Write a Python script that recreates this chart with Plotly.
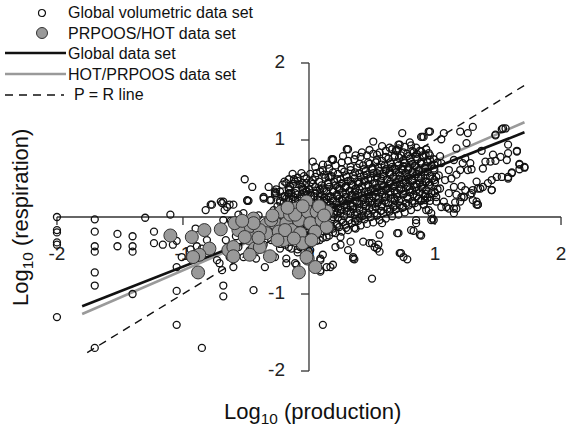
import plotly.graph_objects as go

W, H = 574, 430
X_RANGE = [-2.452, 2.103]
Y_RANGE = [-2.766, 2.818]
PX_X = W / (X_RANGE[1] - X_RANGE[0])
PX_Y = H / (Y_RANGE[1] - Y_RANGE[0])

# ---------------- data (log10 production, log10 respiration) ----------------
gv_left_sparse = [
    (-2.00, 0.00), (-2.00, -0.17), (-2.00, -0.20), (-2.00, -0.33), (-2.00, -0.36), (-2.00, -1.30),
    (-1.70, -0.03), (-1.70, -0.19), (-1.70, -0.38), (-1.70, -0.45), (-1.70, -0.72), (-1.70, -0.89), (-1.70, -1.70),
    (-1.52, -0.22), (-1.52, -0.38), (-1.40, -0.25), (-1.40, -0.38), (-1.40, -0.45), (-1.40, -1.00),
    (-1.30, -0.01), (-1.23, -0.19), (-1.23, -0.34), (-1.16, -0.36), (-1.10, 0.03), (-1.08, -0.36), (-1.05, -0.31),
    (-1.05, -0.65), (-1.05, -0.96), (-1.05, -1.40), (-1.01, -0.52), (-0.85, -1.70), (-0.90, -0.15),
    (-0.68, -0.04), (-0.68, -0.89), (-0.68, -1.03), (-0.69, -0.69), (-0.81, -0.30),
    (-0.85, -0.41), (-0.89, -0.38), (-0.94, -0.42), (-0.73, -0.56), (-0.71, -0.60), (-0.44, -0.95), (0.11, -1.40),
    (-0.62, -0.05), (-0.55, -0.10), (-0.45, -0.20), (-0.40, 0.02), (-0.36, -0.18), (-0.30, -0.12),
    (-0.52, 0.05), (-0.58, -0.25), (-0.66, -0.30),
]
gv_upper_left = [
    (-0.82, 0.09), (-0.77, 0.16), (-0.70, 0.20), (-0.65, 0.13), (-0.63, 0.16), (-0.51, 0.49), (-0.45, 0.39),
    (-0.32, 0.39), (-0.49, 0.21), (-0.36, 0.26), (-0.26, 0.36), (-0.18, 0.44), (-0.13, 0.56), (-0.06, 0.57),
    (0.05, 0.65), (0.11, 0.68), (0.19, 0.74), (-0.11, 0.46), (-0.26, 0.31), (-0.30, 0.22), (-0.16, 0.31),
    (-0.05, 0.35), (0.03, 0.48), (0.09, 0.59), (0.17, 0.52), (0.03, 0.72), (0.18, 0.75), (0.30, 0.88),
    (-0.27, 0.33), (-0.36, 0.24), (-0.48, 0.21), (-0.60, 0.16), (-0.68, 0.20), (-0.67, 0.09), (-0.56, 0.03),
    (-0.31, 0.22), (-0.28, 0.09), (-0.18, 0.24), (-0.16, 0.37), (-0.05, 0.44), (-0.02, 0.33), (-0.21, 0.26),
]
gv_top_edge = [
    (0.74, 1.09), (0.51, 0.98), (0.31, 0.88), (0.71, 0.94), (0.95, 1.11), (0.90, 1.04), (0.64, 0.90),
    (0.70, 0.87), (0.48, 0.87), (0.37, 0.80), (0.19, 0.75), (0.15, 0.68), (0.89, 1.04), (0.72, 0.94),
    (0.69, 0.86), (0.54, 0.81), (0.85, 0.90), (0.42, 0.84), (0.58, 0.92), (0.80, 0.97), (0.27, 0.79),
]
gv_right = [
    (1.56, 1.15), (1.53, 1.14), (1.48, 1.07), (1.37, 0.86), (1.46, 0.81), (1.52, 0.78), (1.58, 0.83),
    (1.65, 0.86), (1.57, 0.74), (1.40, 0.72), (1.44, 0.72), (1.48, 0.73), (1.67, 0.68), (1.71, 0.64),
    (1.67, 0.62), (1.61, 0.57), (1.58, 0.50), (1.53, 0.52), (1.49, 0.52), (1.45, 0.48), (1.42, 0.44),
    (1.38, 0.39), (1.33, 0.46), (1.30, 0.35), (1.28, 0.29), (1.23, 0.26), (1.33, 0.16), (1.34, 0.37),
    (1.38, 0.63), (1.29, 0.62), (1.26, 0.61), (1.28, 0.70), (1.22, 0.70), (1.24, 0.76), (1.20, 0.61),
    (1.17, 0.55), (1.13, 0.50), (1.15, 0.39), (1.11, 0.31), (1.17, 0.29), (1.20, 0.20), (1.15, 0.11),
    (1.09, 0.13), (1.05, 0.13), (1.01, 0.20), (1.00, 0.31), (1.04, 0.37), (1.08, 0.48), (1.01, 0.52),
    (1.11, 0.61), (1.05, 0.70), (1.15, 0.74), (1.17, 0.89), (1.25, 0.96), (1.20, 1.11), (1.26, 1.09),
    (1.30, 1.17), (1.05, 1.01), (1.07, 1.09), (0.96, 1.11), (0.91, 1.04), (0.97, 0.05), (0.95, 0.09),
    (0.99, -0.04), (0.91, 0.16), (0.92, 0.22), (1.21, 0.40), (1.24, 0.35), (1.36, 0.37), (1.45, 0.35),
    (1.33, 0.20), (1.34, 0.16), (1.23, 0.26), (1.17, 0.11), (1.11, 0.11), (1.16, 0.19), (1.58, 0.52),
    (1.61, 0.58), (1.67, 0.69), (1.71, 0.65), (1.65, 0.85), (1.58, 0.94), (1.54, 1.15), (1.48, 1.06),
    (1.07, 0.20), (1.15, 0.05), (1.21, 0.26), (1.29, 0.31), (1.34, 0.16), (1.30, 0.22), (1.45, 0.35),
    (0.93, 0.09), (0.85, -0.04), (0.97, -0.04), (0.98, -0.02),
]
gv_lower = [
    (-0.18, -0.54), (-0.11, -0.60), (0.01, -0.43), (0.09, -0.54), (0.17, -0.65), (0.09, -0.71), (0.19, -0.62),
    (0.35, -0.54), (0.31, -0.43), (0.25, -0.36), (0.43, -0.32), (0.48, -0.34), (0.54, -0.41), (0.50, -0.80),
    (0.73, -0.47), (0.78, -0.55), (0.36, -0.55), (0.56, -0.45), (0.55, -0.36), (0.70, -0.21), (0.83, -0.18),
    (0.89, -0.24), (-0.60, -0.65), (-0.52, -0.52), (-0.35, -0.65), (-0.27, -0.52), (-0.18, -0.60),
    (-0.10, -0.62), (-0.07, -0.39), (-0.01, -0.43), (0.09, -0.56), (0.14, -0.65), (0.09, -0.69), (-0.63, -0.52),
    (-0.56, -0.39), (-0.47, -0.43), (-0.42, -0.54), (-0.36, -0.36), (-0.23, -0.41), (-0.30, -0.30),
    (0.25, -0.26), (0.33, -0.32), (0.37, -0.15), (0.50, -0.34), (0.52, -0.39), (0.56, -0.23), (0.58, -0.08),
    (0.71, -0.21), (0.72, -0.47), (0.81, -0.17), (0.88, -0.23), (0.85, -0.08), (0.35, -0.52), (0.21, -0.39),
    (0.14, -0.26), (0.11, -0.49), (0.75, -0.52), (-0.78, 0.16), (-0.69, 0.18), (-0.49, 0.22), (-0.27, 0.31),
]
gv_core_a = [
    (-0.24, -0.31), (-0.23, -0.18), (-0.26, -0.04), (-0.22, 0.06), (-0.25, 0.14), (-0.23, 0.21), (-0.27, 0.29),
    (-0.19, -0.36), (-0.18, -0.13), (-0.21, 0.01), (-0.17, 0.11), (-0.20, 0.19), (-0.19, 0.27), (-0.16, 0.35), (-0.21, 0.42),
    (-0.14, -0.41), (-0.13, -0.27), (-0.15, -0.11), (-0.12, 0.03), (-0.16, 0.12), (-0.13, 0.23), (-0.11, 0.31), (-0.15, 0.39), (-0.12, 0.49),
    (-0.09, -0.46), (-0.08, -0.33), (-0.10, -0.19), (-0.07, -0.06), (-0.11, 0.07), (-0.08, 0.17), (-0.06, 0.26), (-0.10, 0.34), (-0.07, 0.42), (-0.09, 0.51),
    (-0.04, -0.37), (-0.03, -0.24), (-0.05, -0.13), (-0.02, 0.01), (-0.06, 0.09), (-0.03, 0.21), (-0.01, 0.29), (-0.05, 0.37), (-0.02, 0.44), (-0.04, 0.53),
    (0.01, -0.34), (0.02, -0.21), (0.00, -0.09), (0.03, 0.03), (-0.01, 0.13), (0.02, 0.19), (0.04, 0.27), (0.00, 0.36), (0.03, 0.43), (0.01, 0.56),
    (0.06, -0.31), (0.07, -0.17), (0.05, -0.07), (0.08, 0.05), (0.04, 0.15), (0.07, 0.23), (0.09, 0.31), (0.05, 0.39), (0.08, 0.46), (0.06, 0.57),
    (0.11, -0.27), (0.12, -0.14), (0.10, -0.02), (0.13, 0.08), (0.09, 0.17), (0.12, 0.25), (0.14, 0.33), (0.10, 0.41), (0.13, 0.51), (0.11, 0.61),
    (0.16, -0.24), (0.17, -0.11), (0.15, 0.01), (0.18, 0.10), (0.14, 0.19), (0.17, 0.27), (0.19, 0.35), (0.15, 0.43), (0.18, 0.53), (0.16, 0.63),
    (0.21, -0.21), (0.22, -0.09), (0.20, 0.03), (0.23, 0.12), (0.19, 0.21), (0.22, 0.29), (0.24, 0.37), (0.20, 0.46), (0.23, 0.56), (0.21, 0.67),
    (0.26, -0.19), (0.27, -0.07), (0.25, 0.05), (0.28, 0.15), (0.24, 0.24), (0.27, 0.32), (0.29, 0.40), (0.25, 0.49), (0.28, 0.59), (0.26, 0.71),
    (0.31, -0.17), (0.32, -0.04), (0.30, 0.07), (0.33, 0.17), (0.29, 0.26), (0.32, 0.34), (0.34, 0.43), (0.30, 0.52), (0.33, 0.61), (0.31, 0.73),
    (0.36, -0.14), (0.37, -0.02), (0.35, 0.10), (0.38, 0.19), (0.34, 0.28), (0.37, 0.37), (0.39, 0.46), (0.35, 0.54), (0.38, 0.64), (0.36, 0.75),
    (0.41, -0.11), (0.42, 0.01), (0.40, 0.12), (0.43, 0.22), (0.39, 0.31), (0.42, 0.40), (0.44, 0.48), (0.40, 0.57), (0.43, 0.67), (0.41, 0.78),
    (0.46, -0.09), (0.47, 0.03), (0.45, 0.14), (0.48, 0.24), (0.44, 0.33), (0.47, 0.42), (0.49, 0.51), (0.45, 0.60), (0.48, 0.69), (0.46, 0.80),
    (0.51, -0.07), (0.52, 0.05), (0.50, 0.16), (0.53, 0.26), (0.49, 0.35), (0.52, 0.44), (0.54, 0.53), (0.50, 0.62), (0.53, 0.71), (0.51, 0.82),
    (0.56, -0.04), (0.57, 0.08), (0.55, 0.19), (0.58, 0.29), (0.54, 0.38), (0.57, 0.47), (0.59, 0.56), (0.55, 0.64), (0.58, 0.73), (0.56, 0.84),
    (0.61, -0.02), (0.62, 0.10), (0.60, 0.21), (0.63, 0.31), (0.59, 0.40), (0.62, 0.49), (0.64, 0.58), (0.60, 0.67), (0.63, 0.76), (0.61, 0.86),
    (0.66, 0.01), (0.67, 0.13), (0.65, 0.24), (0.68, 0.34), (0.64, 0.43), (0.67, 0.52), (0.69, 0.61), (0.65, 0.69), (0.68, 0.78), (0.66, 0.88),
    (0.71, 0.03), (0.72, 0.15), (0.70, 0.26), (0.73, 0.36), (0.69, 0.45), (0.72, 0.54), (0.74, 0.63), (0.70, 0.71), (0.73, 0.80), (0.71, 0.89),
    (0.76, 0.06), (0.77, 0.18), (0.75, 0.29), (0.78, 0.39), (0.74, 0.48), (0.77, 0.57), (0.79, 0.65), (0.75, 0.74), (0.78, 0.82), (0.76, 0.91),
    (0.81, 0.09), (0.82, 0.21), (0.80, 0.32), (0.83, 0.41), (0.79, 0.50), (0.82, 0.59), (0.84, 0.67), (0.80, 0.76), (0.83, 0.84), (0.81, 0.93),
    (0.86, 0.13), (0.87, 0.24), (0.85, 0.34), (0.88, 0.44), (0.84, 0.53), (0.87, 0.61), (0.89, 0.70), (0.85, 0.78), (0.88, 0.86),
    (0.91, 0.16), (0.92, 0.27), (0.90, 0.37), (0.93, 0.46), (0.89, 0.55), (0.92, 0.64), (0.94, 0.72), (0.90, 0.80), (0.93, 0.88),
    (0.96, 0.21), (0.97, 0.31), (0.95, 0.41), (0.98, 0.50), (0.94, 0.59), (0.97, 0.67), (0.99, 0.75), (0.95, 0.83),
    (1.01, 0.26), (1.02, 0.36), (1.00, 0.45), (1.03, 0.54), (0.99, 0.63), (1.02, 0.71), (1.04, 0.79),
]
gv_core_b = [
    (-0.16, -0.20), (-0.17, -0.05), (-0.15, 0.07), (-0.18, 0.16), (-0.16, 0.24), (-0.14, 0.31),
    (-0.11, -0.25), (-0.12, -0.12), (-0.10, 0.00), (-0.13, 0.12), (-0.11, 0.21), (-0.09, 0.29),
    (-0.06, -0.28), (-0.07, -0.17), (-0.05, -0.03), (-0.08, 0.13), (-0.06, 0.24), (-0.04, 0.32),
    (-0.01, -0.27), (-0.02, -0.15), (0.00, -0.03), (-0.03, 0.08), (-0.01, 0.24), (0.01, 0.31),
    (0.04, -0.24), (0.03, -0.12), (0.05, 0.00), (0.02, 0.10), (0.04, 0.19), (0.06, 0.34),
    (0.09, -0.21), (0.08, -0.09), (0.10, 0.03), (0.07, 0.12), (0.09, 0.21), (0.11, 0.37),
    (0.14, -0.18), (0.13, -0.06), (0.15, 0.05), (0.12, 0.14), (0.14, 0.23), (0.16, 0.39),
    (0.19, -0.15), (0.18, -0.03), (0.20, 0.07), (0.17, 0.16), (0.19, 0.33), (0.21, 0.41),
    (0.24, -0.13), (0.23, -0.01), (0.25, 0.10), (0.22, 0.19), (0.24, 0.35), (0.26, 0.44),
    (0.29, -0.10), (0.28, 0.01), (0.30, 0.12), (0.27, 0.21), (0.29, 0.38), (0.31, 0.47),
    (0.34, -0.08), (0.33, 0.04), (0.35, 0.14), (0.32, 0.23), (0.34, 0.41), (0.36, 0.50),
    (0.39, -0.05), (0.38, 0.06), (0.40, 0.17), (0.37, 0.26), (0.39, 0.43), (0.41, 0.52),
    (0.44, -0.03), (0.43, 0.08), (0.45, 0.19), (0.42, 0.28), (0.44, 0.46), (0.46, 0.55),
    (0.49, 0.00), (0.48, 0.11), (0.50, 0.21), (0.47, 0.30), (0.49, 0.48), (0.51, 0.57),
    (0.54, 0.02), (0.53, 0.13), (0.55, 0.24), (0.52, 0.33), (0.54, 0.51), (0.56, 0.60),
    (0.59, 0.05), (0.58, 0.16), (0.60, 0.26), (0.57, 0.35), (0.59, 0.53), (0.61, 0.62),
    (0.64, 0.07), (0.63, 0.18), (0.65, 0.29), (0.62, 0.38), (0.64, 0.56), (0.66, 0.65),
    (0.69, 0.10), (0.68, 0.21), (0.70, 0.31), (0.67, 0.40), (0.69, 0.58), (0.71, 0.67),
    (0.74, 0.12), (0.73, 0.23), (0.75, 0.34), (0.72, 0.43), (0.74, 0.61), (0.76, 0.70),
    (0.79, 0.15), (0.78, 0.26), (0.80, 0.36), (0.77, 0.45), (0.79, 0.63), (0.81, 0.72),
    (0.84, 0.18), (0.83, 0.29), (0.85, 0.39), (0.82, 0.48), (0.84, 0.66), (0.86, 0.75),
    (0.89, 0.21), (0.88, 0.32), (0.90, 0.42), (0.87, 0.51), (0.89, 0.69), (0.91, 0.78),
    (0.94, 0.25), (0.93, 0.35), (0.95, 0.45), (0.92, 0.54), (0.94, 0.71), (0.96, 0.80),
]
gv_core_c = [
    (-0.230, -0.35), (-0.230, -0.12), (-0.230, 0.02), (-0.230, 0.19), (-0.230, 0.33),
    (-0.195, -0.28), (-0.195, -0.22), (-0.195, 0.08), (-0.195, 0.13), (-0.195, 0.27), (-0.195, 0.46),
    (-0.160, -0.39), (-0.160, -0.07), (-0.160, 0.21), (-0.160, 0.30), (-0.160, 0.49),
    (-0.125, -0.31), (-0.125, -0.02), (-0.125, 0.05), (-0.125, 0.26), (-0.125, 0.43),
    (-0.090, -0.42), (-0.090, -0.26), (-0.090, 0.00), (-0.090, 0.14), (-0.090, 0.22), (-0.090, 0.47),
    (-0.055, -0.10), (-0.055, -0.03), (-0.055, 0.12), (-0.055, 0.19), (-0.055, 0.39),
    (-0.020, -0.29), (-0.020, -0.12), (-0.020, 0.07), (-0.020, 0.16), (-0.020, 0.34), (-0.020, 0.50),
    (0.015, -0.22), (0.015, -0.14), (0.015, 0.00), (0.015, 0.28), (0.015, 0.45),
    (0.050, -0.05), (0.050, 0.08), (0.050, 0.18), (0.050, 0.31), (0.050, 0.52),
    (0.085, -0.30), (0.085, -0.13), (0.085, 0.02), (0.085, 0.26), (0.085, 0.36),
    (0.120, -0.04), (0.120, 0.06), (0.120, 0.21), (0.120, 0.35), (0.120, 0.55),
    (0.155, -0.16), (0.155, 0.08), (0.155, 0.26), (0.155, 0.45), (0.155, 0.52),
    (0.190, -0.20), (0.190, 0.00), (0.190, 0.13), (0.190, 0.24), (0.190, 0.58),
    (0.225, -0.11), (0.225, 0.06), (0.225, 0.27), (0.225, 0.39), (0.225, 0.49),
    (0.260, -0.04), (0.260, 0.09), (0.260, 0.22), (0.260, 0.43), (0.260, 0.62),
    (0.295, -0.14), (0.295, 0.17), (0.295, 0.30), (0.295, 0.40), (0.295, 0.54),
    (0.330, 0.07), (0.330, 0.14), (0.330, 0.28), (0.330, 0.47), (0.330, 0.65),
    (0.365, -0.06), (0.365, 0.03), (0.365, 0.21), (0.365, 0.33), (0.365, 0.58),
    (0.400, -0.01), (0.400, 0.09), (0.400, 0.36), (0.400, 0.45), (0.400, 0.69),
    (0.435, 0.02), (0.435, 0.16), (0.435, 0.25), (0.435, 0.54), (0.435, 0.62),
    (0.470, 0.05), (0.470, 0.20), (0.470, 0.33), (0.470, 0.49), (0.470, 0.71),
    (0.505, 0.10), (0.505, 0.27), (0.505, 0.37), (0.505, 0.43), (0.505, 0.64),
    (0.540, 0.02), (0.540, 0.18), (0.540, 0.32), (0.540, 0.57), (0.540, 0.74),
    (0.575, 0.08), (0.575, 0.14), (0.575, 0.42), (0.575, 0.50), (0.575, 0.68),
    (0.610, 0.19), (0.610, 0.26), (0.610, 0.36), (0.610, 0.60), (0.610, 0.78),
    (0.645, 0.11), (0.645, 0.33), (0.645, 0.46), (0.645, 0.55), (0.645, 0.71),
    (0.680, 0.15), (0.680, 0.24), (0.680, 0.41), (0.680, 0.63), (0.680, 0.80),
    (0.715, 0.21), (0.715, 0.37), (0.715, 0.49), (0.715, 0.58), (0.715, 0.77),
    (0.750, 0.13), (0.750, 0.30), (0.750, 0.44), (0.750, 0.66), (0.750, 0.84),
    (0.785, 0.24), (0.785, 0.40), (0.785, 0.52), (0.785, 0.61), (0.785, 0.79),
    (0.820, 0.18), (0.820, 0.35), (0.820, 0.47), (0.820, 0.69), (0.820, 0.86),
    (0.855, 0.27), (0.855, 0.43), (0.855, 0.56), (0.855, 0.64), (0.855, 0.82),
    (0.890, 0.22), (0.890, 0.39), (0.890, 0.50), (0.890, 0.72), (0.890, 0.85),
    (0.925, 0.30), (0.925, 0.46), (0.925, 0.59), (0.925, 0.66), (0.925, 0.81),
    (0.960, 0.26), (0.960, 0.42), (0.960, 0.53), (0.960, 0.74),
    (0.995, 0.33), (0.995, 0.48), (0.995, 0.61), (0.995, 0.68),
]
hot_prpoos = [
    (-1.10, -0.24), (-0.93, -0.26), (-0.83, -0.17), (-0.70, -0.16), (-0.79, -0.41), (-0.87, -0.49),
    (-0.92, -0.52), (-0.88, -0.72), (-0.64, -0.43), (-0.60, -0.39), (-0.60, -0.51), (-0.48, -0.13),
    (-0.44, -0.02), (-0.47, -0.28), (-0.43, -0.41), (-0.39, -0.39), (-0.34, -0.10), (-0.34, -0.21),
    (-0.31, -0.51), (-0.27, -0.08), (-0.22, 0.07), (-0.20, -0.30), (-0.18, -0.08), (-0.15, 0.03),
    (-0.14, -0.17), (-0.10, 0.11), (-0.08, -0.04), (-0.07, -0.21), (-0.05, -0.34), (-0.02, 0.20),
    (-0.01, 0.07), (0.01, -0.08), (0.06, 0.07), (0.05, -0.19), (0.10, -0.04), (-0.01, -0.54),
    (0.05, -0.65), (-0.08, -0.72), (-0.56, -0.17), (-0.51, -0.26), (-0.39, -0.17), (-0.24, -0.19),
    (-0.30, -0.04), (-0.19, -0.17), (-0.11, 0.03), (0.14, 0.07), (0.14, -0.13), (-0.59, -0.08),
    (-0.44, -0.08), (-0.02, -0.52), (-0.47, -0.49), (-0.25, -0.30), (-0.12, -0.28), (0.02, -0.30),
    (0.08, 0.14), (-0.05, 0.14), (-0.17, 0.12), (0.12, 0.02), (-0.29, 0.02), (-0.40, -0.27),
    (-0.53, -0.05),
]
global_fit_x = [-1.80, 1.71]
global_fit_y = [-1.16, 1.10]
hot_fit_x = [-1.80, 1.71]
hot_fit_y = [-1.26, 1.23]
pr_line_x = [-1.76, 1.71]
pr_line_y = [-1.76, 1.71]

tick_vals = [-2, -1, 0, 1, 2]
tick_text = ["-2", "-1", "0", "1", "2"]
y_ticks = [-2, -1, 0, 1, 2]
y_tick_text = ["-2", "-1", "0", "1", "2"]

# ---------------- build ----------------
gv_pts = (gv_left_sparse + gv_upper_left + gv_top_edge + gv_right + gv_lower
          + gv_core_a + gv_core_b + gv_core_c)
gv_x = [p[0] for p in gv_pts]
gv_y = [p[1] for p in gv_pts]
hp_x = [p[0] for p in hot_prpoos]
hp_y = [p[1] for p in hot_prpoos]

FONT = "Liberation Sans, Arial, sans-serif"
fig = go.Figure()

# tick labels (drawn under the data)
fig.add_trace(go.Scatter(x=tick_vals, y=[-38 / PX_Y] * len(tick_vals), mode="text", text=tick_text,
                         textposition="middle center", textfont=dict(size=19, color="#222", family=FONT),
                         hoverinfo="skip", showlegend=False))
fig.add_trace(go.Scatter(x=[-24 / PX_X] * len(y_ticks), y=y_ticks, mode="text", text=y_tick_text,
                         textposition="middle left", textfont=dict(size=19, color="#222", family=FONT),
                         hoverinfo="skip", showlegend=False))

# regression / reference lines (under the point cloud)
fig.add_trace(go.Scatter(x=pr_line_x, y=pr_line_y, mode="lines", showlegend=False, hoverinfo="skip",
                         line=dict(color="#111", width=1.4, dash="8px,6px")))
fig.add_trace(go.Scatter(x=hot_fit_x, y=hot_fit_y, mode="lines", showlegend=False, hoverinfo="skip",
                         line=dict(color="#9a9a9a", width=2.6)))
fig.add_trace(go.Scatter(x=global_fit_x, y=global_fit_y, mode="lines", showlegend=False, hoverinfo="skip",
                         line=dict(color="#111", width=2.6)))

fig.add_trace(go.Scatter(x=gv_x, y=gv_y, mode="markers", showlegend=False, hoverinfo="skip",
                         marker=dict(symbol="circle", size=7, color="rgba(255,255,255,0)",
                                     line=dict(color="#111", width=1.3))))
fig.add_trace(go.Scatter(x=hp_x, y=hp_y, mode="markers", showlegend=False, hoverinfo="skip",
                         marker=dict(symbol="circle", size=13, color="#999999",
                                     line=dict(color="#333", width=1))))

shapes = []
AX = dict(color="#333", width=1.3)
shapes.append(dict(type="line", xref="x", yref="y", x0=-2, x1=2, y0=0, y1=0, line=AX, layer="below"))
shapes.append(dict(type="line", xref="x", yref="y", x0=0, x1=0, y0=-2, y1=2, line=AX, layer="below"))
for t in tick_vals:
    shapes.append(dict(type="line", xref="x", yref="y", x0=t, x1=t, y0=0, y1=-8 / PX_Y, line=AX, layer="below"))
for t in y_ticks:
    if t != 0:
        shapes.append(dict(type="line", xref="x", yref="y", x0=0, x1=-8 / PX_X, y0=t, y1=t, line=AX, layer="below"))


def px(xp):
    return xp / W


def py(yp):
    return 1 - yp / H


# legend glyphs
shapes.append(dict(type="circle", xref="paper", yref="paper", xsizemode="pixel", ysizemode="pixel",
                   xanchor=px(42), yanchor=py(13), x0=-3.5, x1=3.5, y0=-3.5, y1=3.5,
                   fillcolor="white", line=dict(color="#111", width=1.2)))
shapes.append(dict(type="circle", xref="paper", yref="paper", xsizemode="pixel", ysizemode="pixel",
                   xanchor=px(42), yanchor=py(33), x0=-5.5, x1=5.5, y0=-5.5, y1=5.5,
                   fillcolor="#999999", line=dict(color="#333", width=1)))
shapes.append(dict(type="line", xref="paper", yref="paper", x0=px(5), x1=px(66), y0=py(53), y1=py(53),
                   line=dict(color="#111", width=2.6)))
shapes.append(dict(type="line", xref="paper", yref="paper", x0=px(5), x1=px(66), y0=py(74), y1=py(74),
                   line=dict(color="#9a9a9a", width=2.6)))
shapes.append(dict(type="line", xref="paper", yref="paper", x0=px(5), x1=px(64), y0=py(95), y1=py(95),
                   line=dict(color="#111", width=1.4, dash="8px,6px")))

legend_labels = ["Global volumetric data set", "PRPOOS/HOT data set", "Global data set",
                 "HOT/PRPOOS data set", "P = R line"]
legend_rows = [13, 33, 53, 74, 95]
legend_x = [66, 66, 66, 66, 72]
annotations = []
for lab, ry, lx in zip(legend_labels, legend_rows, legend_x):
    annotations.append(dict(text=lab, xref="paper", yref="paper", x=px(lx), y=py(ry),
                            xanchor="left", yanchor="middle", showarrow=False,
                            font=dict(size=16, color="#111", family=FONT)))
annotations.append(dict(text="Log<sub>10</sub> (production)", xref="paper", yref="paper",
                        x=px(312), y=py(413), xanchor="center", yanchor="middle", showarrow=False,
                        font=dict(size=22, color="#111", family=FONT)))
annotations.append(dict(text="Log<sub>10</sub> (respiration)", xref="paper", yref="paper",
                        x=px(22), y=py(218), xanchor="center", yanchor="middle", showarrow=False,
                        textangle=-90, font=dict(size=22, color="#111", family=FONT)))

fig.update_layout(
    width=W, height=H, margin=dict(l=0, r=0, t=0, b=0),
    paper_bgcolor="white", plot_bgcolor="white",
    xaxis=dict(range=X_RANGE, visible=False, fixedrange=True),
    yaxis=dict(range=Y_RANGE, visible=False, fixedrange=True),
    shapes=shapes, annotations=annotations, showlegend=False, hovermode=False,
)
fig.write_html("out.html", config={"displayModeBar": False})
